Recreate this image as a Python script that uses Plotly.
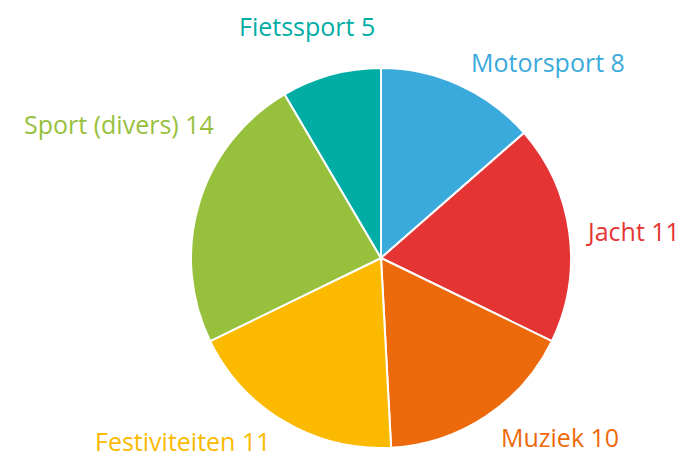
import math
import plotly.graph_objects as go

categories = ["Motorsport", "Jacht", "Muziek", "Festiviteiten", "Sport (divers)", "Fietssport"]
values = [8, 11, 10, 11, 14, 5]
colors = ["#3aaadc", "#e53434", "#ec6a0c", "#fbba00", "#97c03c", "#00ada4"]

W, H = 688, 457
OFF = 8                      # page body margin seen in the screenshot
cx, cy, r = 381 - OFF, 258 - OFF, 190
label_dist = 25              # label distance beyond the pie edge (px)
# small manual label nudges (px) to avoid crowding / edges, as in the original
nudge = {"Sport (divers)": (40, -72), "Fietssport": (52, -25), "Jacht": (-9, 2),
         "Festiviteiten": (0, -2)}
FONT = "Open Sans"
FSIZE = 25

fig = go.Figure(go.Pie(
    labels=categories,
    values=values,
    sort=False,
    direction="clockwise",
    rotation=0,
    marker=dict(colors=colors, line=dict(color="white", width=2)),
    textinfo="none",
    showlegend=False,
    hoverinfo="label+value",
    domain=dict(x=[(cx - r) / W, (cx + r) / W], y=[(H - cy - r) / H, (H - cy + r) / H]),
))

total = sum(values)
cum = 0
for cat, val, col in zip(categories, values, colors):
    mid = (cum + val / 2) / total * 2 * math.pi
    cum += val
    s, c = math.sin(mid), math.cos(mid)
    px = cx + (r + label_dist) * s
    py = cy - (r + label_dist) * c
    dx, dy = nudge.get(cat, (0, 0))
    px += dx
    py += dy
    fig.add_annotation(
        x=px / W, y=1 - py / H, xref="paper", yref="paper",
        text=f"{cat} {val}", showarrow=False,
        xanchor="left" if s > 0 else "right", yanchor="middle",
        borderpad=0,
        font=dict(color=col, size=FSIZE, family=FONT),
    )

fig.update_layout(
    width=W, height=H,
    margin=dict(l=0, r=0, t=0, b=0),
    paper_bgcolor="white",
    font=dict(family=FONT),
)
fig.write_html("out.html")
